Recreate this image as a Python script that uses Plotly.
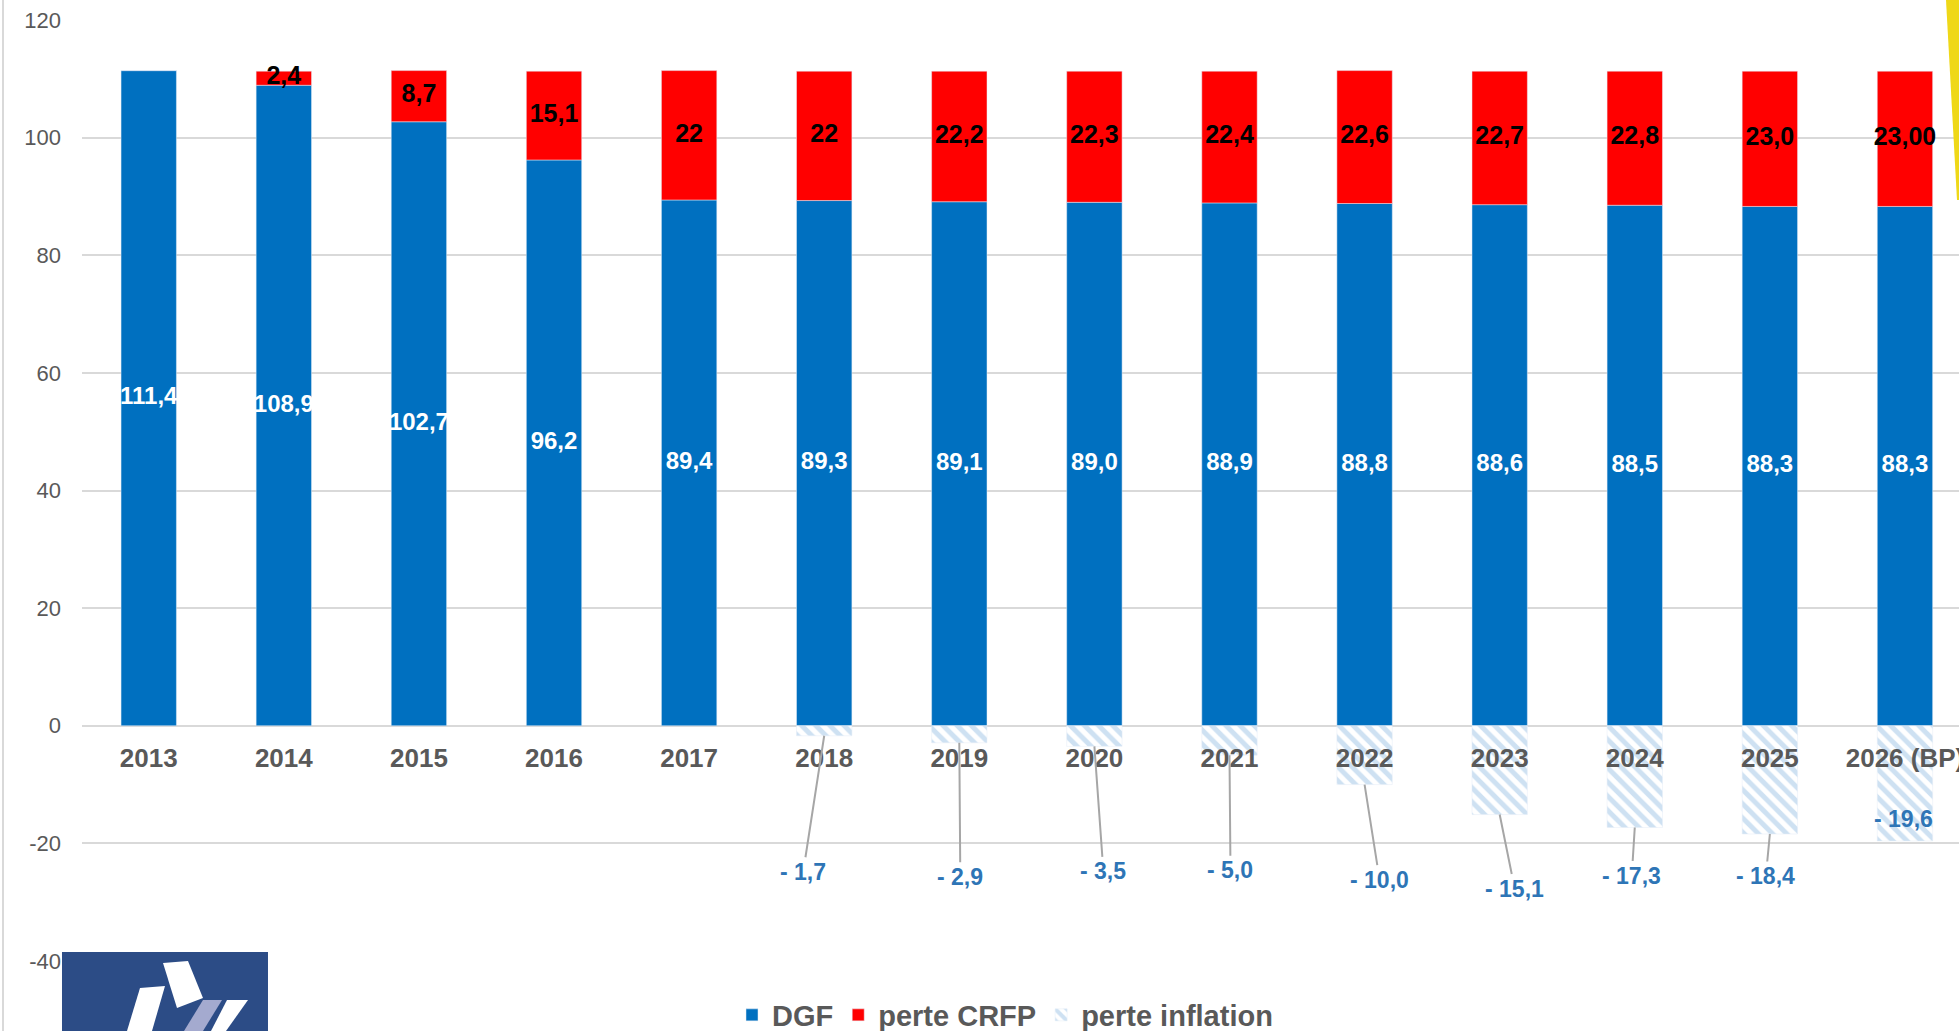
import plotly.graph_objects as go

# Données (milliards d'euros)
annees = ["2013", "2014", "2015", "2016", "2017", "2018", "2019",
          "2020", "2021", "2022", "2023", "2024", "2025", "2026 (BP)"]
dgf = [111.4, 108.9, 102.7, 96.2, 89.4, 89.3, 89.1,
       89.0, 88.9, 88.8, 88.6, 88.5, 88.3, 88.3]
perte_crfp = [0, 2.4, 8.7, 15.1, 22, 22, 22.2,
              22.3, 22.4, 22.6, 22.7, 22.8, 23.0, 23.0]
crfp_labels = ["", "2,4", "8,7", "15,1", "22", "22", "22,2",
               "22,3", "22,4", "22,6", "22,7", "22,8", "23,0", "23,00"]
perte_inflation = [None, None, None, None, None, -1.7, -2.9,
                   -3.5, -5.0, -10.0, -15.1, -17.3, -18.4, -19.6]
y_ticks = [-40, -20, 0, 20, 40, 60, 80, 100, 120]

BLEU = "#0070C0"
ROUGE = "#FF0000"
HACHURE = "#9DC3E6"
GRIS_TXT = "#595959"
GRILLE = "#D9D9D9"
POLICE = "Liberation Sans, Arial, sans-serif"

W, H = 1959, 1031
L, R, T, B = 82, 0, 20, 70
PW, PH = W - L - R, H - T - B

xs = list(range(len(annees)))


def px(x, y):
    """pixels -> coordonnées paper."""
    return (x - L) / PW, (H - B - y) / PH


def poly(points, color):
    path = ""
    for i, (x, y) in enumerate(points):
        u, v = px(x, y)
        path += ("M" if i == 0 else "L") + f"{u:.5f},{v:.5f}"
    return dict(type="path", xref="paper", yref="paper", path=path + "Z",
                fillcolor=color, line=dict(width=0), layer="above")


fig = go.Figure()

fig.add_trace(go.Bar(
    name="DGF", x=xs, y=dgf, marker_color=BLEU, width=0.41,
    hoverinfo="y",
))
fig.add_trace(go.Bar(
    name="perte CRFP", x=xs, y=perte_crfp, marker_color=ROUGE, width=0.41,
    hoverinfo="y",
))
fig.add_trace(go.Bar(
    name="perte inflation", x=xs, y=perte_inflation, width=0.41,
    marker=dict(color="white",
                pattern=dict(shape="\\", fgcolor=HACHURE, bgcolor="white",
                             size=10, solidity=0.5)),
    hoverinfo="y",
))

# étiquettes DGF (blanches, au milieu)
fig.add_trace(go.Scatter(
    x=xs, y=[v / 2 for v in dgf], mode="text",
    text=[f"{v:.1f}".replace(".", ",") for v in dgf],
    textfont=dict(family=POLICE, size=24, color="white", weight="bold"),
    showlegend=False, hoverinfo="skip",
))
# étiquettes CRFP (noires, au milieu du segment rouge)
fig.add_trace(go.Scatter(
    x=xs, y=[d + c / 2 for d, c in zip(dgf, perte_crfp)], mode="text",
    text=crfp_labels,
    textfont=dict(family=POLICE, size=25, color="black", weight="bold"),
    showlegend=False, hoverinfo="skip",
))

# étiquettes inflation avec lignes de rappel
decalages = [None, None, None, None, None, (-21, 136), (1, 134), (9, 125),
             (1, 115), (15, 95), (15, 74), (-3, 48), (-4, 42), (-1, -22)]
for i, (v, dec) in enumerate(zip(perte_inflation, decalages)):
    if v is None:
        continue
    ax, ay = dec
    fig.add_annotation(
        x=i, y=v, ax=ax, ay=ay,
        text=f"- {abs(v):.1f}".replace(".", ","),
        font=dict(family=POLICE, size=23, color="#2E75B6", weight="bold"),
        showarrow=True, arrowhead=0, arrowwidth=2, standoff=0,
        arrowcolor="#A6A6A6" if ay > 0 else "rgba(0,0,0,0)",
    )

shapes = [
    # bord gauche du cadre
    dict(type="line", xref="paper", yref="paper",
         x0=px(3, 0)[0], x1=px(3, 0)[0], y0=px(0, 0)[1], y1=px(0, H)[1],
         line=dict(color=GRILLE, width=2)),
    # trait jaune à droite
    poly([(1946, 0), (1959, 0), (1959, 200), (1957, 200)], "#EFD818"),
    # logo
    poly([(62, 952), (268, 952), (268, 1031), (62, 1031)], "#2C4C86"),
    poly([(163, 963), (188, 961), (203, 998), (177, 1008)], "white"),
    poly([(140, 988), (165, 986), (152, 1031), (127, 1031)], "white"),
    poly([(203, 1000), (222, 1000), (203, 1031), (184, 1031)], "#A4AACF"),
    poly([(227, 1000), (248, 1000), (226, 1031), (211, 1031)], "white"),
]

fig.update_layout(
    width=W, height=H,
    margin=dict(l=L, r=R, t=T, b=B, autoexpand=False),
    paper_bgcolor="white", plot_bgcolor="white",
    barmode="relative",
    font=dict(family=POLICE, color=GRIS_TXT),
    shapes=shapes,
    legend=dict(
        orientation="h", x=px(1005, 0)[0], xanchor="center",
        y=px(0, 1015)[1], yanchor="middle",
        font=dict(size=29, color=GRIS_TXT, weight="bold"),
        itemwidth=30, traceorder="normal",
    ),
    xaxis=dict(
        range=[-0.494, 13.4],
        tickvals=xs, ticktext=annees,
        anchor="free", position=0.25, automargin=False,
        ticklabeloverflow="allow",
        showgrid=False, showline=False, zeroline=False, ticks="",
        tickfont=dict(size=26, color=GRIS_TXT, weight="bold"),
        ticklabelstandoff=14,
    ),
    yaxis=dict(
        range=[-40, 120],
        tickvals=y_ticks, ticktext=[str(v) for v in y_ticks],
        automargin=False, ticklabeloverflow="allow",
        showgrid=True, gridcolor=GRILLE, gridwidth=2,
        zeroline=False, showline=False, ticks="",
        tickfont=dict(size=22, color=GRIS_TXT),
        ticklabelstandoff=20,
    ),
)

# pas de marge ni de barres de défilement autour du graphique
fig.write_html(
    "out.html",
    config={"displayModeBar": False},
    post_script="document.body.style.margin='0';"
                "document.body.style.overflow='hidden';",
)
